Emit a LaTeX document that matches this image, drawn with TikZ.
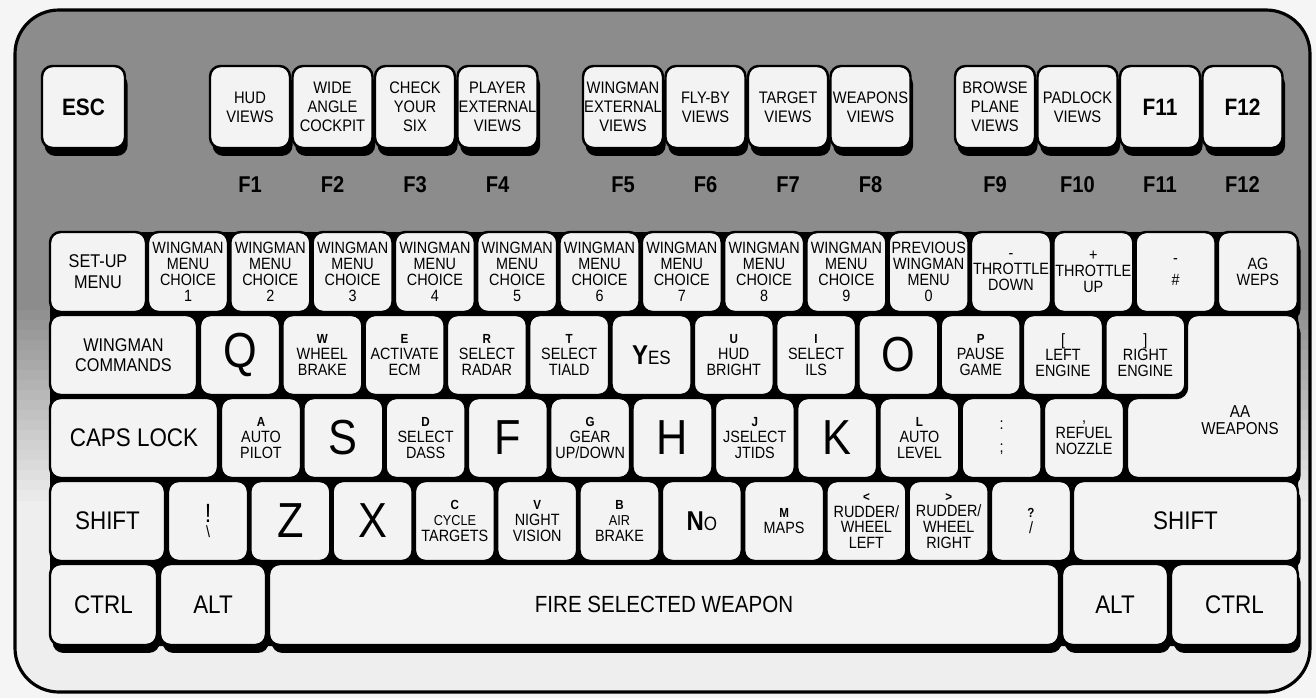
\documentclass[tikz,border=0pt]{standalone}
\usepackage{fontspec}
\setmainfont{Liberation Sans}[FakeStretch=0.88]
\usetikzlibrary{positioning, shadows}

\definecolor{casegray}{HTML}{8C8C8C}
\definecolor{caselight}{HTML}{EEEEEE}
\definecolor{keyface}{HTML}{F3F3F3}

\newcommand\klet[1]{{\bfseries\fontsize{7.5}{7.5}\selectfont #1}}
\newcommand\bigkey[1]{{\fontsize{28}{28}\selectfont #1}}
\newcommand\capkey[2]{{\bfseries\fontsize{15.5}{15.5}\selectfont #1}{\fontsize{11}{11}\selectfont #2}}
\newcommand\smalltxt{\fontsize{8.2}{8.6}\selectfont}

\begin{document}
\begin{tikzpicture}[
    x=0.02cm, y=-0.02cm,
    keyshape/.style={draw, line width=1.4pt, rounded corners=6pt, fill=keyface,
      drop shadow={shadow xshift=1.5pt, shadow yshift=-4.5pt, fill=black, opacity=1}},
    key/.style={keyshape, align=center, inner sep=0pt, minimum width=80*0.02cm,
      minimum height=80*0.02cm, font=\fontsize{9.3}{9}\selectfont},
    wd/.style={minimum width=#1*0.02cm},
    fkey/.style={key, minimum height=82*0.02cm, font=\fontsize{9.5}{10.8}\selectfont},
    fname/.style={font=\bfseries\fontsize{13}{13}\selectfont},
    modkey/.style={key, font=\fontsize{14.5}{14.5}\selectfont}
  ]
  % case
  \useasboundingbox (0,0) rectangle (1316,698);
  \fill[white!96!black] (0,0) rectangle (1316,698);
  \begin{scope}
    \clip[rounded corners=25pt] (15,10) rectangle (1310,692);
    \fill[caselight] (15,10) rectangle (1310,692);
    \fill[casegray] (15,10) rectangle (1310,300);
    \foreach \k [evaluate=\k as \pct using int(\k*5)] in {0,...,19}
      \fill[caselight!\pct!casegray] (15,300+\k*10) rectangle (1310,311+\k*10);
  \end{scope}
  \draw[line width=1.8pt, rounded corners=25pt] (15,10) rectangle (1310,692);
  % black gaps between the key rows
  \fill[rounded corners=6pt] (50,232) rectangle (1298,646);

  % function keys
  \node[fkey, wd=83, font=\bfseries\fontsize{13.5}{13.5}\selectfont] (esc) at (83.5,107) {ESC};
  \foreach \cx/\txt/\fn in {250/{HUD\\VIEWS}/F1, 332.5/{WIDE\\ANGLE\\COCKPIT}/F2,
      415/{CHECK\\YOUR\\SIX}/F3, 497.5/{PLAYER\\EXTERNAL\\VIEWS}/F4,
      623/{WINGMAN\\EXTERNAL\\VIEWS}/F5, 705.5/{FLY-BY\\VIEWS}/F6,
      788/{TARGET\\VIEWS}/F7, 870.5/{WEAPONS\\VIEWS}/F8,
      995/{BROWSE\\PLANE\\VIEWS}/F9, 1077.5/{PADLOCK\\VIEWS}/F10,
      1160/{\bfseries\fontsize{13.5}{13.5}\selectfont F11}/F11,
      1242.5/{\bfseries\fontsize{13.5}{13.5}\selectfont F12}/F12}
    {\node[fkey] (key\fn) at (\cx,107) {\txt};
     \node[fname] (lab\fn) at (\cx,185) {\fn};}

  % number row
  \node[key, wd=96, font=\fontsize{10.5}{12}\selectfont] (setup) at (98,272) {SET-UP\\MENU};
  \foreach \txt [count=\i from 0] in {{WINGMAN\\MENU\\CHOICE\\1}, {WINGMAN\\MENU\\CHOICE\\2},
      {WINGMAN\\MENU\\CHOICE\\3}, {WINGMAN\\MENU\\CHOICE\\4}, {WINGMAN\\MENU\\CHOICE\\5},
      {WINGMAN\\MENU\\CHOICE\\6}, {WINGMAN\\MENU\\CHOICE\\7}, {WINGMAN\\MENU\\CHOICE\\8},
      {WINGMAN\\MENU\\CHOICE\\9}, {PREVIOUS\\WINGMAN\\MENU\\0}, {-\\THROTTLE\\DOWN},
      {+\\THROTTLE\\UP}, {-\\[4pt]\#}, {AG\\WEPS}}
    \node[key] (num\i) at (188+\i*82.3,272) {\txt};

  % top letter row
  \node[key, wd=147, font=\fontsize{10.5}{11}\selectfont] (wcmd) at (123.5,355) {WINGMAN\\COMMANDS};
  \foreach \txt [count=\i from 0] in {{\bigkey{Q}}, {\klet{W}\\WHEEL\\BRAKE},
      {\klet{E}\\ACTIVATE\\ECM}, {\klet{R}\\SELECT\\RADAR}, {\klet{T}\\SELECT\\TIALD},
      {\capkey{Y}{ES}}, {\klet{U}\\HUD\\BRIGHT}, {\klet{I}\\SELECT\\ILS}, {\bigkey{O}},
      {\klet{P}\\PAUSE\\GAME}, {[\\LEFT\\ENGINE}, {]\\RIGHT\\ENGINE}}
    \node[key] (top\i) at (240+\i*82.3,355) {\txt};

  % home row
  \node[modkey, wd=168] (caps) at (134,438) {CAPS LOCK};
  \foreach \txt [count=\i from 0] in {{\klet{A}\\AUTO\\PILOT}, {\bigkey{S}},
      {\klet{D}\\SELECT\\DASS}, {\bigkey{F}}, {\klet{G}\\GEAR\\UP/DOWN}, {\bigkey{H}},
      {\klet{J}\\JSELECT\\JTIDS}, {\bigkey{K}}, {\klet{L}\\AUTO\\LEVEL}, {:\\[4pt];},
      {,\\REFUEL\\NOZZLE}}
    \node[key] (home\i) at (261+\i*82.3,438) {\txt};

  % enter key
  \draw[keyshape] (1187,315) -- (1298,315) -- (1298,478) -- (1127,478)
    -- (1127,398) -- (1187,398) -- cycle;
  \node[font=\fontsize{9.8}{9.5}\selectfont, align=center] (aa) at (1240,420) {AA\\WEAPONS};

  % bottom letter row
  \node[modkey, wd=115] (lshift) at (107.5,521) {SHIFT};
  \foreach \txt [count=\i from 0] in {{\fontsize{15}{14}\selectfont !\\\textbackslash},
      {\bigkey{Z}}, {\bigkey{X}}, {\klet{C}\\\smalltxt CYCLE\\TARGETS},
      {\klet{V}\\NIGHT\\VISION}, {\klet{B}\\\smalltxt AIR\\BRAKE}, {\capkey{N}{O}},
      {\klet{M}\\MAPS}, {\klet{<}\\RUDDER/\\WHEEL\\LEFT}, {\klet{>}\\RUDDER/\\WHEEL\\RIGHT},
      {\klet{?}\\/}}
    \node[key] (low\i) at (208+\i*82.3,521) {\txt};
  \node[modkey, wd=225] (rshift) at (1185.5,521) {SHIFT};

  % space row
  \node[modkey, wd=107, minimum height=81*0.02cm] (lctrl) at (103.5,604.5) {CTRL};
  \node[modkey, wd=106, minimum height=81*0.02cm] (lalt) at (213,604.5) {ALT};
  \node[key, wd=790, minimum height=81*0.02cm, font=\fontsize{13.3}{13.3}\selectfont] (space) at (664,604.5) {FIRE SELECTED WEAPON};
  \node[modkey, wd=106, minimum height=81*0.02cm] (ralt) at (1115,604.5) {ALT};
  \node[modkey, wd=127, minimum height=81*0.02cm] (rctrl) at (1234.5,604.5) {CTRL};
\end{tikzpicture}
\end{document}
